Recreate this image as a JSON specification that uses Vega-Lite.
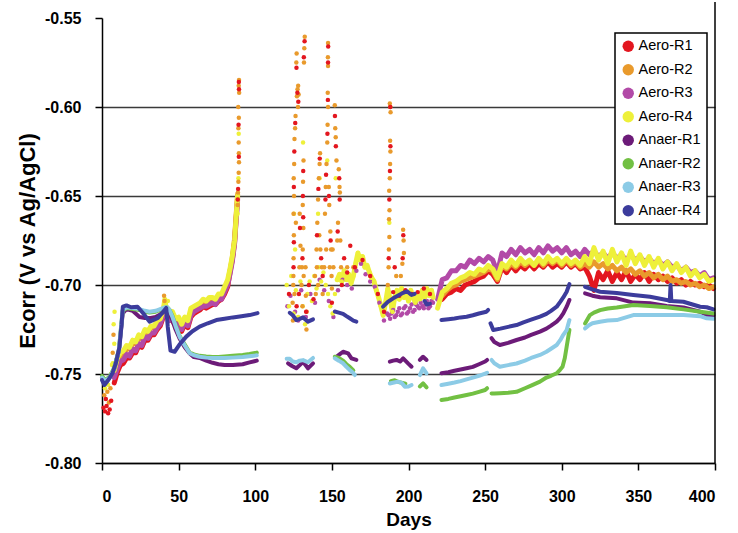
{
"$schema": "https://vega.github.io/schema/vega-lite/v6.json",
"width": 613, "height": 445,
"autosize": {"type": "none"},
"padding": {"left": 102, "top": 18, "right": 23, "bottom": 70},
"background": "white",
"config": {"view": {"stroke": null}, "font": "Liberation Sans",
  "axis": {"domainColor": "#000", "tickColor": "#000", "labelColor": "#000", "titleColor": "#000", "labelFont": "Liberation Sans", "titleFont": "Liberation Sans"}},
"data": {"values": [
{"s":"Aero-R1","k":"al","g":"r1a","d":[8,10,12,14,16,18,20,22,24,26,28,30,32,34,36,38,40,41,42,44,46,48,50,52,54,56,58,60,62,64,66,68,70,72,74,76,78,80,82,83.5,85,86.5,87.5,88.5],"v":[-0.755,-0.749,-0.745,-0.744,-0.741,-0.741,-0.738,-0.738,-0.734,-0.735,-0.731,-0.731,-0.728,-0.728,-0.725,-0.723,-0.718,-0.712,-0.717,-0.72,-0.72,-0.723,-0.723,-0.726,-0.722,-0.724,-0.718,-0.716,-0.715,-0.714,-0.712,-0.713,-0.712,-0.711,-0.711,-0.709,-0.708,-0.705,-0.701,-0.693,-0.686,-0.676,-0.663,-0.651]},
{"s":"Aero-R1","k":"al","g":"r1c","d":[222,225,228,231,234,237,240,243,246,249,252,255,258,261,264,267,270,273,276,279,282,285,288,291,294,297,300,303,306,309,312,315,318,321,324,327,330,333,336,339,342,345,348,351,354,357,360,363,366,369,372,375,378,381,384,387,390,393,396,399],"v":[-0.708,-0.705,-0.704,-0.702,-0.703,-0.7,-0.699,-0.698,-0.696,-0.695,-0.692,-0.694,-0.698,-0.69,-0.693,-0.689,-0.692,-0.689,-0.691,-0.688,-0.691,-0.688,-0.69,-0.687,-0.69,-0.688,-0.69,-0.687,-0.69,-0.688,-0.691,-0.69,-0.695,-0.703,-0.693,-0.697,-0.692,-0.698,-0.693,-0.697,-0.692,-0.698,-0.694,-0.697,-0.693,-0.698,-0.694,-0.697,-0.695,-0.698,-0.696,-0.699,-0.697,-0.7,-0.698,-0.7,-0.699,-0.701,-0.7,-0.702]},
{"s":"Aero-R2","k":"al","g":"r2a","d":[8,10,12,14,16,18,20,22,24,26,28,30,32,34,36,38,40,41,42,44,46,48,50,52,54,56,58,60,62,64,66,68,70,72,74,76,78,80,82,83.5,85,86.5,87.5,88.5],"v":[-0.746,-0.743,-0.74,-0.739,-0.736,-0.736,-0.733,-0.733,-0.73,-0.73,-0.727,-0.727,-0.724,-0.724,-0.721,-0.72,-0.715,-0.71,-0.715,-0.718,-0.717,-0.72,-0.72,-0.723,-0.72,-0.721,-0.715,-0.713,-0.712,-0.711,-0.71,-0.71,-0.709,-0.708,-0.709,-0.706,-0.706,-0.703,-0.699,-0.692,-0.685,-0.674,-0.661,-0.649]},
{"s":"Aero-R2","k":"al","g":"r2c","d":[222,225,228,231,234,237,240,243,246,249,252,255,258,261,264,267,270,273,276,279,282,285,288,291,294,297,300,303,306,309,312,315,318,321,324,327,330,333,336,339,342,345,348,351,354,357,360,363,366,369,372,375,378,381,384,387,390,393,396,399],"v":[-0.706,-0.703,-0.701,-0.7,-0.698,-0.697,-0.696,-0.695,-0.694,-0.693,-0.691,-0.692,-0.697,-0.689,-0.691,-0.688,-0.69,-0.687,-0.689,-0.687,-0.689,-0.686,-0.689,-0.686,-0.688,-0.686,-0.689,-0.686,-0.689,-0.687,-0.69,-0.688,-0.69,-0.687,-0.69,-0.688,-0.691,-0.689,-0.692,-0.69,-0.693,-0.691,-0.694,-0.692,-0.695,-0.693,-0.696,-0.694,-0.697,-0.695,-0.698,-0.697,-0.699,-0.698,-0.7,-0.699,-0.701,-0.7,-0.702,-0.701]},
{"s":"Aero-R3","k":"al","g":"r3a","d":[8,10,12,14,16,18,20,22,24,26,28,30,32,34,36,38,40,41,42,44,46,48,50,52,54,56,58,60,62,64,66,68,70,72,74,76,78,80,82,83.5,85,86.5,87.5,88.5],"v":[-0.752,-0.747,-0.743,-0.742,-0.739,-0.74,-0.736,-0.737,-0.733,-0.734,-0.729,-0.73,-0.727,-0.727,-0.724,-0.722,-0.717,-0.713,-0.716,-0.72,-0.719,-0.722,-0.722,-0.725,-0.721,-0.723,-0.717,-0.715,-0.714,-0.713,-0.712,-0.712,-0.711,-0.71,-0.711,-0.708,-0.708,-0.704,-0.7,-0.694,-0.687,-0.677,-0.664,-0.652]},
{"s":"Aero-R3","k":"al","g":"r3c","d":[219,222,225,228,231,234,237,240,243,246,249,252,255,258,261,264,267,270,273,276,279,282,285,288,291,294,297,300,303,306,309,312,315,318,321,324,327,330,333,336,339,342,345,348,351,354,357,360,363,366,369,372,375,378,381,384,387,390,393,396,399],"v":[-0.708,-0.697,-0.696,-0.692,-0.692,-0.689,-0.69,-0.686,-0.688,-0.685,-0.687,-0.684,-0.686,-0.693,-0.682,-0.684,-0.68,-0.683,-0.679,-0.682,-0.68,-0.683,-0.679,-0.682,-0.678,-0.681,-0.679,-0.682,-0.679,-0.683,-0.681,-0.684,-0.68,-0.683,-0.681,-0.684,-0.682,-0.685,-0.682,-0.685,-0.683,-0.686,-0.683,-0.686,-0.684,-0.687,-0.685,-0.688,-0.686,-0.689,-0.687,-0.69,-0.689,-0.692,-0.69,-0.693,-0.692,-0.695,-0.693,-0.697,-0.696]},
{"s":"Aero-R4","k":"al","g":"r4a","d":[8,10,12,14,16,18,20,22,24,26,28,30,32,34,36,38,40,41,42,44,46,48,50,52,54,56,58,60,62,64,66,68,70,72,74,76,78,80,82,83.5,85,86.5,87.5,88.5],"v":[-0.748,-0.741,-0.738,-0.737,-0.734,-0.735,-0.731,-0.732,-0.728,-0.729,-0.725,-0.726,-0.723,-0.723,-0.72,-0.719,-0.714,-0.708,-0.714,-0.717,-0.715,-0.719,-0.718,-0.722,-0.718,-0.72,-0.713,-0.712,-0.711,-0.71,-0.708,-0.709,-0.707,-0.707,-0.708,-0.705,-0.705,-0.701,-0.697,-0.691,-0.684,-0.675,-0.662,-0.65]},
{"s":"Aero-R4","k":"al","g":"r4b","d":[153.5,155,156.5,158,159.5,161,162.5,164,165.5,167,168.5,170,171.5,173,174.5,176,177.5,179,180.5,182,183.5,185,186.5,188,189.5,191,192.5,194,195.5,197,198.5,200,201.5,203,204.5,206,207.5,209,210.5,212,213.5,215,216],"v":[-0.697,-0.694,-0.698,-0.692,-0.697,-0.694,-0.699,-0.695,-0.688,-0.682,-0.686,-0.684,-0.69,-0.689,-0.693,-0.696,-0.698,-0.703,-0.707,-0.712,-0.717,-0.71,-0.702,-0.708,-0.715,-0.707,-0.703,-0.708,-0.702,-0.707,-0.704,-0.709,-0.703,-0.707,-0.71,-0.705,-0.708,-0.703,-0.707,-0.702,-0.706,-0.703,-0.707]},
{"s":"Aero-R4","k":"al","g":"r4c","d":[219,222,225,228,231,234,237,240,243,246,249,252,255,258,261,264,267,270,273,276,279,282,285,288,291,294,297,300,303,306,309,312,315,318,321,324,327,330,333,336,339,342,345,348,351,354,357,360,363,366,369,372,375,378,381,384,387,390,393,396,399],"v":[-0.713,-0.704,-0.702,-0.699,-0.698,-0.696,-0.695,-0.693,-0.694,-0.691,-0.692,-0.689,-0.691,-0.696,-0.688,-0.69,-0.686,-0.689,-0.685,-0.688,-0.686,-0.689,-0.685,-0.688,-0.684,-0.687,-0.685,-0.688,-0.685,-0.688,-0.686,-0.689,-0.684,-0.688,-0.679,-0.686,-0.681,-0.688,-0.68,-0.687,-0.682,-0.689,-0.681,-0.688,-0.683,-0.689,-0.684,-0.69,-0.685,-0.691,-0.687,-0.692,-0.688,-0.693,-0.69,-0.695,-0.692,-0.696,-0.694,-0.698,-0.697]},

{"s":"Aero-R3","k":"ap","g":"m1","d":[121,123,126,128,130,133,136,139,142,145,148,151,154,157,160,163,166,169,172,175,178,181,184],"v":[-0.712,-0.706,-0.715,-0.72,-0.703,-0.718,-0.705,-0.71,-0.697,-0.703,-0.709,-0.718,-0.703,-0.697,-0.7,-0.702,-0.692,-0.688,-0.694,-0.698,-0.701,-0.71,-0.72]},
{"s":"Aero-R3","k":"ap","g":"m2","d":[186,187,188,189,190,191,192,193,194,195,196,197,198,199,200,201,202,203,204,205,206,207,208,209,210,211,212,213,214,215,216],"v":[-0.716,-0.717,-0.719,-0.716,-0.714,-0.718,-0.717,-0.715,-0.713,-0.717,-0.716,-0.713,-0.712,-0.716,-0.715,-0.713,-0.711,-0.715,-0.714,-0.711,-0.712,-0.713,-0.71,-0.712,-0.713,-0.711,-0.709,-0.713,-0.712,-0.709,-0.71]},
{"s":"Aero-R4","k":"ap","g":"y1","d":[2,4,6,7,8,7.6,8.2,6.5,43,88.5,89,89.2,125.3,131.2,142,147,187.5,152.5,126,141],"v":[-0.758,-0.756,-0.75,-0.744,-0.733,-0.722,-0.715,-0.745,-0.709,-0.66,-0.64,-0.615,-0.66,-0.62,-0.64,-0.63,-0.665,-0.64,-0.68,-0.66]},
{"s":"Aero-R4","k":"ap","g":"y2","d":[120.5,122,123.5,125,126.5,128,129.5,131,132.5,134,135.5,137,138.5,140,141.5,143,144.5,146,147.5,149,150.5,152,153.5,155,156.5,158,159.5,161,162.5,164,165.5,167,168.5,170,171.5,173,174.5,176,177.5,179,180.5,182,183.5,185,186.5,188,189.5,191,192.5,194,195.5,197,198.5,200,201.5,203,204.5,206,207.5,209,210.5,212,213.5,215,216],"v":[-0.7,-0.712,-0.695,-0.716,-0.703,-0.718,-0.698,-0.712,-0.722,-0.705,-0.698,-0.709,-0.695,-0.702,-0.69,-0.698,-0.693,-0.7,-0.705,-0.712,-0.716,-0.705,-0.697,-0.694,-0.698,-0.692,-0.697,-0.694,-0.699,-0.695,-0.688,-0.682,-0.686,-0.684,-0.69,-0.689,-0.693,-0.696,-0.698,-0.703,-0.707,-0.712,-0.717,-0.71,-0.702,-0.708,-0.715,-0.707,-0.703,-0.708,-0.702,-0.707,-0.704,-0.709,-0.703,-0.707,-0.71,-0.705,-0.708,-0.703,-0.707,-0.702,-0.706,-0.703,-0.707]},
{"s":"Aero-R2","k":"ap","g":"o1","d":[1.5,3.5,5.5,4.5,7,7.5,40.5,40.8],"v":[-0.762,-0.76,-0.758,-0.766,-0.738,-0.728,-0.706,-0.709]},
{"s":"Aero-R2","k":"ap","g":"o2","d":[88.7,89,89.2,89.4,89.3,89.2,89,89.3,89.5,89.2,89.4,88.9,88.5],"v":[-0.648,-0.642,-0.637,-0.631,-0.626,-0.62,-0.612,-0.606,-0.592,-0.588,-0.5848,-0.6,-0.655]},
{"s":"Aero-R2","k":"ap","g":"o3","d":[124.6,124.8,125,125.2,125,125.3,125.1,125.4,125.6,126,126.3,127.2,127.6,128,128.3,127.9,126.8,127,132.3,132,131.8,131.5,131.2,131,131.4,131,130.5,133.4,133,129,129.5],"v":[-0.72,-0.7,-0.685,-0.672,-0.66,-0.65,-0.64,-0.632,-0.618,-0.612,-0.605,-0.594,-0.59,-0.588,-0.593,-0.6,-0.575,-0.57,-0.5605,-0.567,-0.575,-0.63,-0.642,-0.655,-0.668,-0.68,-0.69,-0.725,-0.706,-0.66,-0.678]},
{"s":"Aero-R2","k":"ap","g":"o4","d":[140,140.5,141,141.5,142,142.3,141.8,143.5,145.5,146,146.5,147,147.2,147.5,147.3,147.5,147.4,147.5,148,148.3,149,149.5,151.9,152.2,152.5,153,154.5,155,155.2,154,153.5,156,151,150,144,139,160,164],"v":[-0.68,-0.665,-0.652,-0.64,-0.632,-0.626,-0.672,-0.69,-0.66,-0.645,-0.632,-0.62,-0.61,-0.6,-0.592,-0.577,-0.572,-0.564,-0.645,-0.655,-0.67,-0.68,-0.599,-0.612,-0.617,-0.63,-0.635,-0.645,-0.648,-0.665,-0.675,-0.69,-0.69,-0.702,-0.705,-0.695,-0.69,-0.69]},
{"s":"Aero-R2","k":"ap","g":"o5","d":[186.5,187,187.2,187.5,187.3,187.6,187.4,187.8,188,188.2,188,188.3,187.8,188.1,196.5,196.8,197,196,195,192],"v":[-0.7,-0.69,-0.68,-0.673,-0.663,-0.658,-0.647,-0.64,-0.632,-0.625,-0.619,-0.603,-0.598,-0.6,-0.669,-0.675,-0.682,-0.688,-0.695,-0.695]},
{"s":"Aero-R2","k":"ap","g":"o6","d":[124.4,124.9,125.6,130.2,130.8,131.6,132.8,133.6,126.5,128.8,139.5,140.2,141,142.5,145,146.3,148.6,149.8,150.5,155.5],"v":[-0.71,-0.695,-0.705,-0.7,-0.712,-0.695,-0.69,-0.715,-0.665,-0.69,-0.705,-0.69,-0.7,-0.68,-0.69,-0.68,-0.69,-0.695,-0.68,-0.675]},
{"s":"Aero-R1","k":"ap","g":"e1","d":[1,2,3,4,5,2.5,6],"v":[-0.769,-0.771,-0.768,-0.772,-0.77,-0.764,-0.765]},
{"s":"Aero-R1","k":"ap","g":"e2","d":[88.8,89.3,89.1,89.4,89.3,88.6],"v":[-0.646,-0.628,-0.61,-0.59,-0.586,-0.652]},
{"s":"Aero-R1","k":"ap","g":"e3","d":[125,125.2,125.2,125.5,126.1,127.5,128.1,126.9,132.2,131.7,131.3,131.1,131.3,130.8,129.2,133.2,128.5],"v":[-0.69,-0.676,-0.645,-0.625,-0.609,-0.592,-0.597,-0.578,-0.563,-0.572,-0.636,-0.65,-0.662,-0.685,-0.668,-0.715,-0.705]},
{"s":"Aero-R1","k":"ap","g":"e4","d":[140.3,141.2,142.1,146.2,147.1,147.4,147.5,147.6,148.1,149.2,152,152.6,154.8,155.1,153.8,145.8,143,156.5,158,162],"v":[-0.672,-0.646,-0.629,-0.638,-0.615,-0.596,-0.575,-0.566,-0.65,-0.675,-0.605,-0.622,-0.64,-0.652,-0.67,-0.652,-0.685,-0.7,-0.685,-0.678]},
{"s":"Aero-R1","k":"ap","g":"e5","d":[187.1,187.5,187.9,188.2,188.1,196.6,196.2,191,190,194,198,202,206,210,214],"v":[-0.685,-0.652,-0.636,-0.622,-0.6,-0.672,-0.685,-0.69,-0.704,-0.706,-0.703,-0.705,-0.704,-0.702,-0.705]},
{"s":"Aero-R1","k":"ap","g":"e6","d":[122,127,135,138,144,150,160,165,170,175,180,184],"v":[-0.705,-0.712,-0.7,-0.708,-0.695,-0.71,-0.693,-0.69,-0.686,-0.695,-0.705,-0.715]},

{"s":"Anaer-R1","k":"nl","g":"p1","d":[0,2,5,8,11,13.5,16,20,24.5,28,31,35,38,41,42.5,44,46,48,50.6,54,57.2,60,63.7,68,72.2,76,80,85.4,91.8,96.3,101],"v":[-0.752,-0.754,-0.752,-0.747,-0.737,-0.716,-0.7135,-0.7145,-0.718,-0.7185,-0.7186,-0.718,-0.7165,-0.7145,-0.714,-0.716,-0.72,-0.725,-0.73,-0.735,-0.7385,-0.7405,-0.741,-0.7425,-0.7437,-0.7445,-0.745,-0.745,-0.7445,-0.7435,-0.7425]},
{"s":"Anaer-R1","k":"nl","g":"p2","d":[121.4,124,126.8,129,131.2,134.4,137.7],"v":[-0.744,-0.7455,-0.7468,-0.745,-0.7431,-0.7468,-0.744]},
{"s":"Anaer-R1","k":"nl","g":"p3","d":[153,155,157.3,160.6,162.8,166],"v":[-0.7403,-0.739,-0.7375,-0.7384,-0.7412,-0.7421]},
{"s":"Anaer-R1","k":"nl","g":"p4","d":[187.8,190,192.2,194.5,196.5,199.7,202],"v":[-0.7431,-0.7425,-0.7421,-0.743,-0.7412,-0.744,-0.7459]},
{"s":"Anaer-R1","k":"nl","g":"p5","d":[207.4,209.5,211.8],"v":[-0.7421,-0.7403,-0.7421]},
{"s":"Anaer-R1","k":"nl","g":"p6","d":[221.5,226,230,234,237.9,242,246,250,251.3],"v":[-0.7496,-0.749,-0.7482,-0.7475,-0.7468,-0.746,-0.7445,-0.743,-0.7421]},
{"s":"Anaer-R1","k":"nl","g":"p7","d":[254.2,256,259.6,265,270.5,276,280,285.8,290,293,296.7,299,301,303.2,305],"v":[-0.7299,-0.732,-0.7337,-0.7325,-0.7309,-0.7295,-0.728,-0.7262,-0.7245,-0.7228,-0.7206,-0.7185,-0.716,-0.7122,-0.7084]},
{"s":"Anaer-R1","k":"nl","g":"p8","d":[315.2,320,325,335.9,346.7,357.6,368.5,379.4,390.3,394.6,399],"v":[-0.7047,-0.706,-0.7069,-0.7075,-0.7099,-0.7103,-0.7118,-0.7126,-0.715,-0.7169,-0.717]},
{"s":"Anaer-R2","k":"nl","g":"g1","d":[0,2,5,8,11,13.5,16,20,24.5,28,31,35,38,41,42.5,44,46,48,50.6,54,57.2,60,63.7,68,72.2,76,80,85.4,91.8,96.3,101],"v":[-0.751,-0.7535,-0.7515,-0.7465,-0.7365,-0.7145,-0.713,-0.7135,-0.714,-0.715,-0.7155,-0.715,-0.714,-0.7128,-0.7125,-0.7138,-0.7175,-0.7225,-0.7285,-0.7335,-0.738,-0.739,-0.7398,-0.7402,-0.7405,-0.7405,-0.7402,-0.7398,-0.7393,-0.7388,-0.738]},
{"s":"Anaer-R2","k":"nl","g":"g3","d":[151.9,154.5,157.3,159.5,161.7,164],"v":[-0.7403,-0.741,-0.7425,-0.7445,-0.746,-0.748]},
{"s":"Anaer-R2","k":"nl","g":"g4","d":[188.5,191,193.5,196,198],"v":[-0.754,-0.7535,-0.7545,-0.755,-0.7555]},
{"s":"Anaer-R2","k":"nl","g":"g5","d":[207.4,209.5,211.8],"v":[-0.757,-0.7553,-0.7575]},
{"s":"Anaer-R2","k":"nl","g":"g6","d":[221.5,226,230,234,237.9,242,246,250,251.3],"v":[-0.7646,-0.764,-0.7632,-0.7625,-0.7618,-0.761,-0.76,-0.759,-0.758]},
{"s":"Anaer-R2","k":"nl","g":"g7","d":[254.2,256,259.6,265,270.5,276,280,285.8,290,293,296.7,299,300.5,302,303.2,305],"v":[-0.7609,-0.761,-0.7608,-0.7605,-0.76,-0.758,-0.7565,-0.7543,-0.752,-0.751,-0.7496,-0.7475,-0.7459,-0.741,-0.7347,-0.7253]},
{"s":"Anaer-R2","k":"nl","g":"g8","d":[315.2,318.4,321,325,330,335.9,346.7,357.6,368.5,379.4,390.3,399],"v":[-0.7216,-0.7169,-0.7155,-0.7141,-0.7132,-0.7126,-0.7112,-0.7118,-0.7125,-0.7137,-0.715,-0.716]},
{"s":"Anaer-R3","k":"nl","g":"c1","d":[0,2,5,8,11,13.5,16,20,24.5,28,31,35,38,41,42.5,44,46,48,50.6,54,57.2,60,63.7,68,72.2,76,80,85.4,91.8,96.3,101],"v":[-0.752,-0.754,-0.752,-0.747,-0.737,-0.714,-0.7125,-0.713,-0.7135,-0.7145,-0.715,-0.7145,-0.7135,-0.7125,-0.7125,-0.714,-0.718,-0.723,-0.729,-0.734,-0.7383,-0.7395,-0.7403,-0.7408,-0.741,-0.741,-0.741,-0.7408,-0.7405,-0.74,-0.7395]},
{"s":"Anaer-R3","k":"nl","g":"c2","d":[120.5,122.5,124.5,126.8,129,131.2,134.4,137.7],"v":[-0.7415,-0.7415,-0.743,-0.7434,-0.7425,-0.7422,-0.7434,-0.741]},
{"s":"Anaer-R3","k":"nl","g":"c3","d":[151.9,154.5,157.3,159.5,161.7,163.5,165],"v":[-0.7412,-0.7425,-0.744,-0.746,-0.7478,-0.749,-0.7506]},
{"s":"Anaer-R3","k":"nl","g":"c4","d":[187.8,190.5,193.2,195.5,197.6,200,202],"v":[-0.7553,-0.7548,-0.7543,-0.755,-0.7571,-0.757,-0.7562]},
{"s":"Anaer-R3","k":"nl","g":"c5","d":[207.4,209.5,211.8],"v":[-0.7506,-0.7468,-0.7497]},
{"s":"Anaer-R3","k":"nl","g":"c6","d":[221.5,226,230,234,237.9,242,246,250,251.3],"v":[-0.7562,-0.7555,-0.7548,-0.754,-0.753,-0.752,-0.751,-0.7498,-0.7493]},
{"s":"Anaer-R3","k":"nl","g":"c7","d":[254.2,256,259.6,265,270.5,276,280,285.8,290,293,296.7,299,301,303.2,305],"v":[-0.7421,-0.744,-0.7459,-0.745,-0.7441,-0.7425,-0.741,-0.7393,-0.7375,-0.7358,-0.7337,-0.731,-0.728,-0.7253,-0.7197]},
{"s":"Anaer-R3","k":"nl","g":"c8","d":[315.2,318,320,325,330,335.9,346.7,357.6,368.5,379.4,390.3,394.6,399],"v":[-0.7244,-0.7225,-0.7215,-0.7206,-0.72,-0.7197,-0.7169,-0.7169,-0.7169,-0.7169,-0.7175,-0.7187,-0.719]},
{"s":"Anaer-R4","k":"nl","g":"b1","d":[0,1.6,4,6.9,9,11.4,12.8,13.6,16,19,23.2,27,31,34,36.5,39,41.9,42.9,44.7,47.4,51,55,59,63.7,69,74.6,80,85.4,91,96.3,101.5],"v":[-0.7534,-0.7562,-0.7535,-0.7494,-0.744,-0.7348,-0.722,-0.7122,-0.7115,-0.7125,-0.7122,-0.716,-0.7206,-0.7195,-0.7185,-0.716,-0.7129,-0.7234,-0.7369,-0.7375,-0.733,-0.729,-0.726,-0.7234,-0.7215,-0.7197,-0.719,-0.7182,-0.7175,-0.7169,-0.7158]},
{"s":"Anaer-R4","k":"nl","g":"b2","d":[122.5,124.5,126.8,129,131.2,134.4,137.7],"v":[-0.7156,-0.717,-0.7197,-0.719,-0.7182,-0.7206,-0.7193]},
{"s":"Anaer-R4","k":"nl","g":"b3","d":[151.9,154.5,157.3,159.5,161.7,164,166],"v":[-0.7149,-0.7155,-0.7162,-0.7175,-0.7187,-0.72,-0.7206]},
{"s":"Anaer-R4","k":"nl","g":"b4","d":[183.4,186.5,190,193,196.5,199,202,204],"v":[-0.7122,-0.7095,-0.7075,-0.706,-0.7044,-0.7035,-0.7056,-0.705]},
{"s":"Anaer-R4","k":"nl","g":"b5","d":[210.5,212,214],"v":[-0.709,-0.711,-0.7105]},
{"s":"Anaer-R4","k":"nl","g":"b6","d":[221.5,226,230,234,237.9,242,246,250.9,252],"v":[-0.7197,-0.7192,-0.7188,-0.7182,-0.7178,-0.717,-0.716,-0.715,-0.714]},
{"s":"Anaer-R4","k":"nl","g":"b7","d":[253.5,255.3,260,265,270.5,275,280,285.8,290,293,296.7,299,301,303.2,305],"v":[-0.7215,-0.7253,-0.7245,-0.7235,-0.7225,-0.721,-0.7195,-0.7178,-0.7162,-0.7145,-0.7122,-0.7095,-0.707,-0.7038,-0.6995]},
{"s":"Anaer-R4","k":"nl","g":"b8","d":[315.2,320,325,335.9,346.7,357.6,368.5,370.5,371,371.5,379.4,390.3,394.6,399],"v":[-0.701,-0.7025,-0.7038,-0.7045,-0.7056,-0.7066,-0.7084,-0.709,-0.7,-0.709,-0.7094,-0.7122,-0.7125,-0.7137]}
]},
"layer": [
{"transform": [{"flatten": ["d", "v"]}, {"filter": "datum.k === 'al'"}],
 "mark": {"type": "line", "strokeWidth": 5, "strokeJoin": "round", "strokeCap": "round"},
 "encoding": {
  "x": {"field": "d", "type": "quantitative", "scale": {"domain": [0, 400], "nice": false, "zero": false},
   "axis": {"title": "Days", "values": [0,50,100,150,200,250,300,350,400], "labelFontSize": 16, "labelFontWeight": "bold", "tickSize": 7, "tickWidth": 1.5, "labelPadding": 18, "domainWidth": 1.5, "grid": false, "titleFontSize": 19, "titleFontWeight": "bold", "titlePadding": 6}},
  "y": {"field": "v", "type": "quantitative", "scale": {"domain": [-0.8, -0.55], "nice": false, "zero": false},
   "axis": {"title": "Ecorr (V vs  Ag/AgCl)", "values": [-0.8,-0.75,-0.7,-0.65,-0.6,-0.55], "labelExpr": "'-' + format(abs(datum.value), '.2f')", "labelFontSize": 16, "labelFontWeight": "bold", "tickSize": 7, "tickWidth": 1.5, "labelPadding": 14, "domainWidth": 1.5, "grid": true, "gridColor": "#3a3a3a", "gridWidth": 1.3, "gridOpacity": {"condition": {"test": "datum.value > -0.56", "value": 0}, "value": 1}, "titleFontSize": 22, "titleFontWeight": "bold", "titlePadding": 5}},
  "color": {"field": "s", "type": "nominal",
   "scale": {"domain": ["Aero-R1","Aero-R2","Aero-R3","Aero-R4","Anaer-R1","Anaer-R2","Anaer-R3","Anaer-R4"],
             "range": ["#e3161f","#e99a2c","#b24aa7","#eef03a","#6c1b78","#72c043","#8ccbe6","#3c3c9c"]},
   "legend": {"title": null, "orient": "none", "legendX": 513, "legendY": 15, "direction": "vertical", "symbolType": "circle", "symbolSize": 130, "symbolStrokeWidth": 0, "labelFontSize": 14.5, "labelFont": "Liberation Sans", "labelColor": "#000", "rowPadding": 8.5, "labelOffset": 3, "padding": 6, "strokeColor": "#000", "fillColor": "#fff",
     "encode": {"symbols": {"update": {"fill": {"scale": "color", "field": "value"}, "fillOpacity": {"value": 1}, "opacity": {"value": 1}}}, "legend": {"update": {"strokeWidth": {"value": 1.5}}}}}},
  "detail": {"field": "g", "type": "nominal"}}},
{"transform": [{"flatten": ["d", "v"]}, {"filter": "datum.k === 'ap'"}],
 "mark": {"type": "circle", "size": 20, "opacity": 1},
 "encoding": {
  "x": {"field": "d", "type": "quantitative"},
  "y": {"field": "v", "type": "quantitative"},
  "color": {"field": "s", "type": "nominal"}}},
{"transform": [{"flatten": ["d", "v"]}, {"filter": "datum.k === 'nl'"}],
 "mark": {"type": "line", "strokeWidth": 4, "strokeJoin": "round", "strokeCap": "round"},
 "encoding": {
  "x": {"field": "d", "type": "quantitative"},
  "y": {"field": "v", "type": "quantitative"},
  "color": {"field": "s", "type": "nominal"},
  "detail": {"field": "g", "type": "nominal"}}},
{"data": {"values": [{"z": 1}]},
 "mark": {"type": "rule", "color": "#000", "strokeWidth": 1.5},
 "encoding": {"x": {"datum": 400, "type": "quantitative"}, "y": {"datum": -0.541, "type": "quantitative"}, "y2": {"datum": -0.8}}}
]
}
